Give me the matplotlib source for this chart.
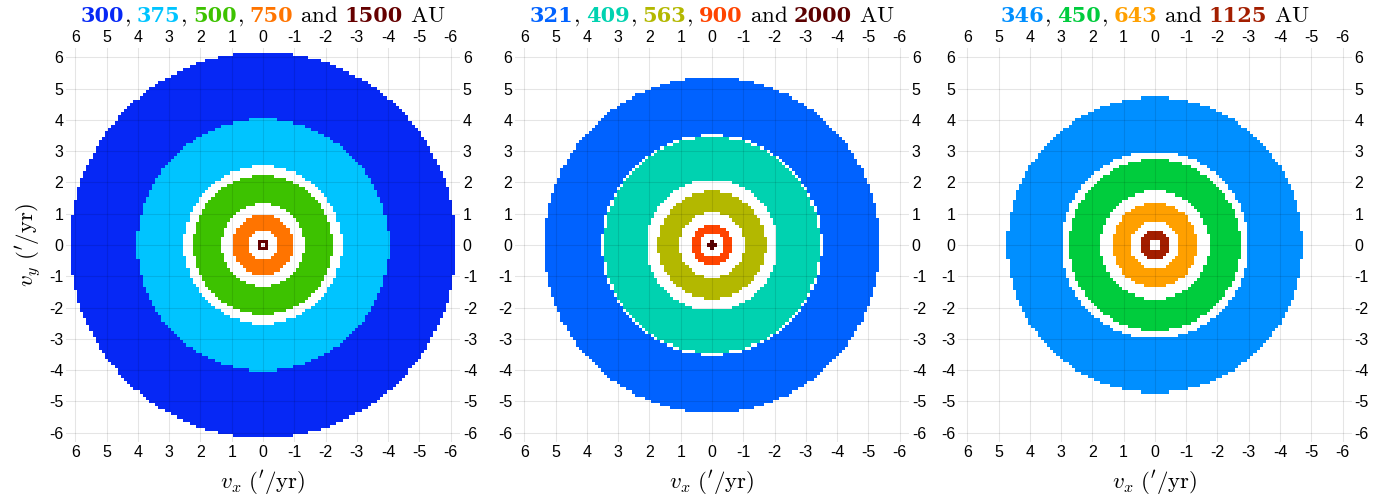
import numpy as np
import matplotlib
matplotlib.use("Agg")
from matplotlib import pyplot as plt
from matplotlib.colors import ListedColormap, BoundaryNorm

plt.rcParams['mathtext.fontset'] = 'cm'
plt.rcParams['font.family'] = ['Liberation Sans', 'DejaVu Sans']
plt.rcParams['axes.unicode_minus'] = False

# ring radii (''/yr), per panel, outer ring first
p1_dist = ['300', '375', '500', '750', '1500']
p1_inner = [4.02, 2.52, 1.33, 0.50, 0.05]
p1_outer = [6.17, 4.02, 2.23, 0.95, 0.15]
p1_colors = ['#0628f5', '#00c4ff', '#3dc200', '#ff7400', '#650000']

p2_dist = ['321', '409', '563', '900', '2000']
p2_inner = [3.52, 2.10, 1.03, 0.37, 0.00]
p2_outer = [5.37, 3.45, 1.72, 0.65, 0.11]
p2_colors = ['#0062ff', '#00d2b0', '#b3b800', '#ff4400', '#5c0000']

p3_dist = ['346', '450', '643', '1125']
p3_inner = [3.00, 1.74, 0.78, 0.15]
p3_outer = [4.72, 2.74, 1.35, 0.45]
p3_colors = ['#008fff', '#00cc3d', '#ffa000', '#a31e00']

ticks = np.arange(-6, 7)
lim = 6.3
step = 0.1  # pixel size of the velocity grid

panels = [(p1_dist, p1_inner, p1_outer, p1_colors),
          (p2_dist, p2_inner, p2_outer, p2_colors),
          (p3_dist, p3_inner, p3_outer, p3_colors)]
lefts = [0.048, 0.3743, 0.6962]

fig = plt.figure(figsize=(13.76, 4.97), dpi=100)

centers = np.arange(-65, 66) * step
edges = np.append(centers - step / 2, centers[-1] + step / 2)
VX, VY = np.meshgrid(centers, centers)
R = np.hypot(VX, VY)

for i, (dist, rin, rout, cols) in enumerate(panels):
    ax = fig.add_axes([lefts[i], 0.1107, 0.2863, 0.7928])
    lab = np.zeros(R.shape, dtype=int)
    for k, (a, b) in enumerate(zip(rin, rout)):
        lab[(R >= a) & (R <= b)] = k + 1
    cmap = ListedColormap(['white'] + cols)
    norm = BoundaryNorm(np.arange(-0.5, len(cols) + 1), cmap.N)
    ax.pcolormesh(edges, edges, lab, cmap=cmap, norm=norm, zorder=0)

    ax.set_xlim(lim, -lim)
    ax.set_ylim(-lim, lim)
    ax.set_xticks(ticks)
    ax.set_yticks(ticks)
    ax.set_axisbelow(False)
    ax.grid(True, color='k', alpha=0.1, lw=0.8)
    ax.tick_params(length=0, labelsize=11.5, pad=2,
                   top=True, right=True, labeltop=True, labelright=True)
    for s in ax.spines.values():
        s.set_visible(False)
    ax.set_xlabel(r'$v_x\ (^{\prime}/\mathrm{yr})$', fontsize=16.5, labelpad=6)
    if i == 0:
        ax.set_ylabel(r'$v_y\ (^{\prime}/\mathrm{yr})$', fontsize=16.5, labelpad=4)

# coloured titles, built piece by piece: (text, colour, bold, gap before in px)
fig.canvas.draw()
renderer = fig.canvas.get_renderer()
W = fig.bbox.width
for i, (dist, rin, rout, cols) in enumerate(panels):
    parts = []
    for k, (d, c) in enumerate(zip(dist, cols)):
        gap = 0 if k == 0 else 6
        parts.append((d, c, True, gap))
        if k < len(dist) - 2:
            parts.append((r'$,$', 'k', False, 0))
        elif k == len(dist) - 2:
            parts.append((r'$\mathrm{and}$', 'k', False, 7))
    parts.append((r'$\mathrm{AU}$', 'k', False, 7))
    texts = []
    for s, c, bold, gap in parts:
        if bold:
            t = fig.text(0, 0.956, s, color=c, fontsize=15, fontweight='bold',
                         family='DejaVu Serif', va='baseline', ha='left')
        else:
            t = fig.text(0, 0.956, s, color=c, fontsize=16.5,
                         va='baseline', ha='left')
        texts.append(t)
    fig.canvas.draw()
    widths = [t.get_window_extent(renderer).width for t in texts]
    gaps = [p[3] for p in parts]
    total = sum(widths) + sum(gaps)
    xc = (lefts[i] + 0.2863 / 2) * W
    x = xc - total / 2
    for t, w, g in zip(texts, widths, gaps):
        x += g
        t.set_x(x / W)
        x += w

fig.savefig('out.png', dpi=100)
